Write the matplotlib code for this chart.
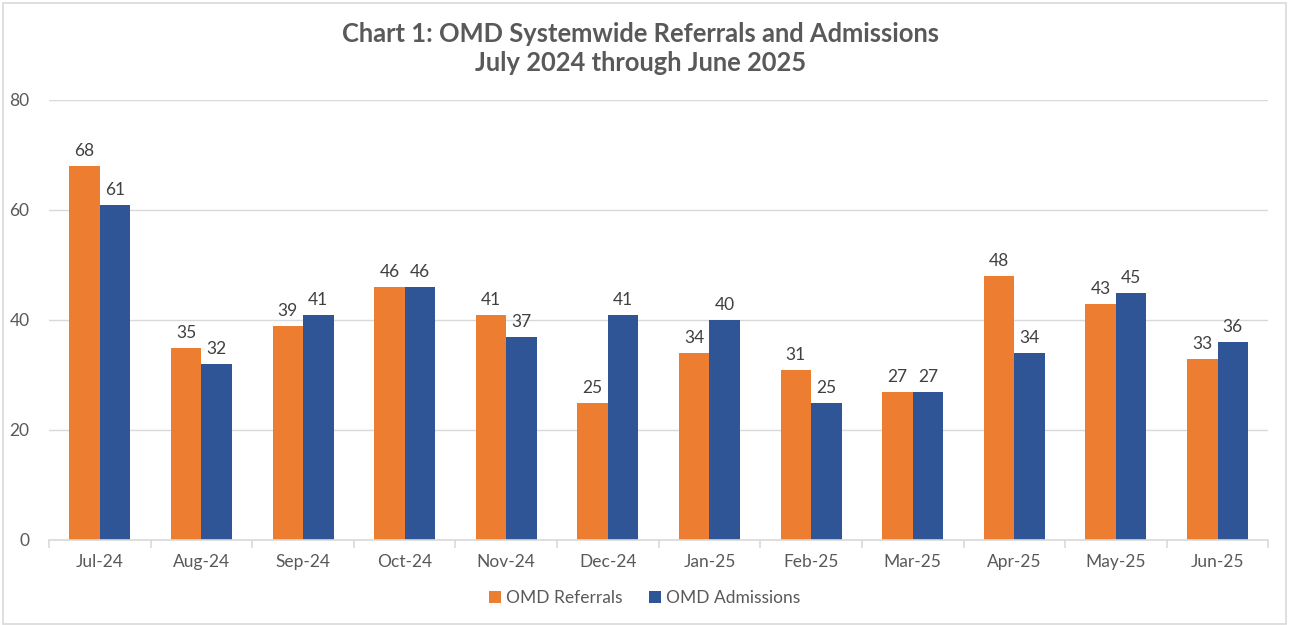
import numpy as np
import matplotlib.pyplot as plt
from matplotlib.patches import Rectangle

# Chart data
months = ['Jul-24', 'Aug-24', 'Sep-24', 'Oct-24', 'Nov-24', 'Dec-24',
          'Jan-25', 'Feb-25', 'Mar-25', 'Apr-25', 'May-25', 'Jun-25']
referrals = [68, 35, 39, 46, 41, 25, 34, 31, 27, 48, 43, 33]
admissions = [61, 32, 41, 46, 37, 41, 40, 25, 27, 34, 45, 36]

plt.rcParams['font.family'] = ['Lato', 'DejaVu Sans']

fig = plt.figure(figsize=(12.89, 6.25), dpi=100)
ax = fig.add_axes([0.038, 0.136, 0.946, 0.704])

x = np.arange(len(months))
w = 0.30
bars_r = ax.bar(x - w / 2, referrals, w, color='#ED7D31', label='OMD Referrals')
bars_a = ax.bar(x + w / 2, admissions, w, color='#2F5597', label='OMD Admissions')

# value labels above each bar
for bars in (bars_r, bars_a):
    for b in bars:
        ax.annotate(f"{int(b.get_height())}",
                    (b.get_x() + b.get_width() / 2, b.get_height()),
                    xytext=(0, 5), textcoords='offset points',
                    ha='center', va='bottom', fontsize=12.5, color='#404040')

ax.set_xlim(-0.5, len(months) - 0.5)
ax.set_ylim(0, 80)
ax.set_yticks([0, 20, 40, 60, 80])
ax.set_xticks(x)
ax.set_xticklabels(months)
ax.set_xticks(np.arange(-0.5, len(months)), minor=True)
ax.tick_params(axis='x', which='major', length=0, pad=10, labelsize=12.5, labelcolor='#595959')
ax.tick_params(axis='x', which='minor', length=6, color='#d9d9d9', width=1.2)
ax.tick_params(axis='y', length=0, pad=14, labelsize=12.5, labelcolor='#595959')

ax.grid(axis='y', color='#d9d9d9', linewidth=1)
ax.set_axisbelow(True)
for side in ('top', 'right', 'left'):
    ax.spines[side].set_visible(False)
ax.spines['bottom'].set_color('#d9d9d9')
ax.spines['bottom'].set_linewidth(1.2)

fig.text(0.497, 0.922,
         'Chart 1: OMD Systemwide Referrals and Admissions\nJuly 2024 through June 2025',
         ha='center', va='center', fontsize=18.4, fontweight='bold', color='#595959',
         linespacing=1.25)

fig.legend(loc='center', bbox_to_anchor=(0.5, 0.043), ncol=2, frameon=False,
           fontsize=12.5, labelcolor='#595959', handlelength=0.7, handleheight=0.7,
           handletextpad=0.3, columnspacing=1.5)

# light chart border
fig.patches.append(Rectangle((0.002, 0.002), 0.996, 0.993, transform=fig.transFigure,
                             fill=False, edgecolor='#d9d9d9', linewidth=1.2))

fig.savefig('out.png', dpi=100)
